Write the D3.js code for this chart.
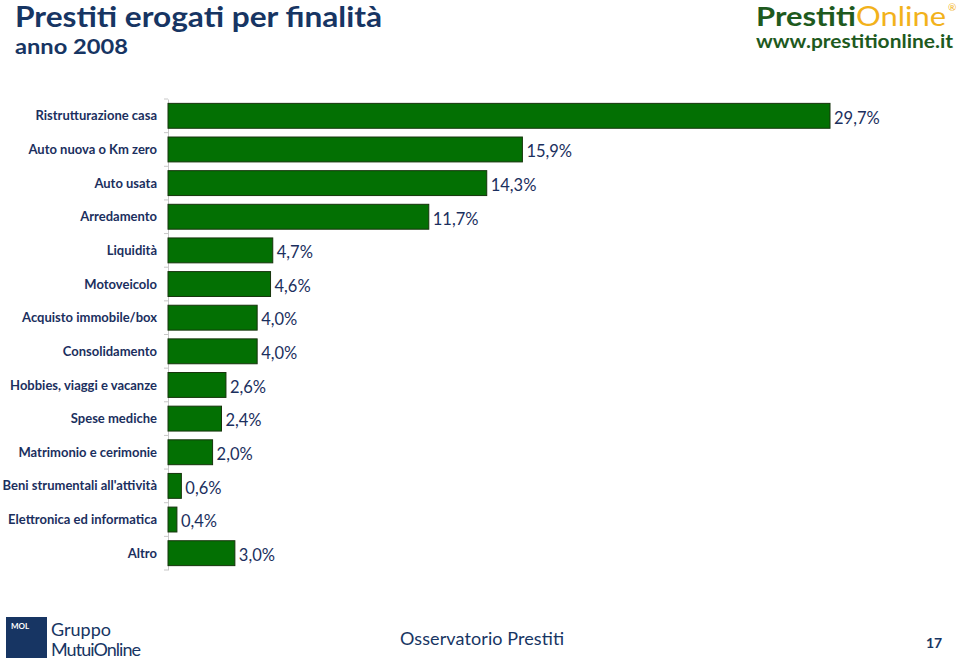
<!DOCTYPE html>
<html>
<head>
<meta charset="utf-8">
<script src="https://cdn.jsdelivr.net/npm/d3@7"></script>
<style>
  html, body { margin: 0; padding: 0; background: #fff; }
  svg { display: block; }
</style>
</head>
<body>
<script>
// categories and shares (%)
const categories = [
  "Ristrutturazione casa", "Auto nuova o Km zero", "Auto usata", "Arredamento",
  "Liquidità", "Motoveicolo", "Acquisto immobile/box", "Consolidamento",
  "Hobbies, viaggi e vacanze", "Spese mediche", "Matrimonio e cerimonie",
  "Beni strumentali all'attività", "Elettronica ed informatica", "Altro"
];
const values = [29.7, 15.9, 14.3, 11.7, 4.7, 4.6, 4.0, 4.0, 2.6, 2.4, 2.0, 0.6, 0.4, 3.0];

const width = 960, height = 660;
const navy = "#1b2f5e";
const font = "Lato, 'Open Sans', sans-serif";

const margin = {top: 99, left: 168};

const data = categories.map((c, i) => ({cat: c, val: values[i]}));

const x = d3.scaleLinear([0, 29.7], [margin.left, 830]);
const y = d3.scaleBand(categories, [margin.top, 570]).paddingInner(0.26).paddingOuter(0.13);

const svg = d3.select("body").append("svg")
    .attr("width", width)
    .attr("height", height)
    .attr("viewBox", [0, 0, width, height]);

// title
svg.append("text")
    .attr("x", 15).attr("y", 27)
    .attr("fill", "#173563")
    .attr("font-family", font).attr("font-weight", "bold").attr("font-size", 28)
    .attr("textLength", 367).attr("lengthAdjust", "spacingAndGlyphs")
    .text("Prestiti erogati per finalità");
svg.append("text")
    .attr("x", 15).attr("y", 54)
    .attr("fill", "#173563")
    .attr("font-family", font).attr("font-weight", "bold").attr("font-size", 21)
    .attr("textLength", 113).attr("lengthAdjust", "spacingAndGlyphs")
    .text("anno 2008");

// PrestitiOnline logo
const logo = svg.append("g").attr("font-family", font).attr("font-weight", "bold");
logo.append("text")
    .attr("x", 756).attr("y", 26)
    .attr("font-size", 27)
    .attr("textLength", 190).attr("lengthAdjust", "spacingAndGlyphs")
    .call(t => t.append("tspan").attr("fill", "#1e5a1e").text("Prestiti"))
    .call(t => t.append("tspan").attr("fill", "#f2b21b").attr("font-weight", "normal").text("Online"));
logo.append("text")
    .attr("x", 948).attr("y", 11)
    .attr("fill", "#f2b21b").attr("font-size", 10).attr("font-weight", "normal")
    .text("®");
logo.append("text")
    .attr("x", 756).attr("y", 48)
    .attr("fill", "#1e5a1e").attr("font-size", 18)
    .attr("textLength", 197).attr("lengthAdjust", "spacingAndGlyphs")
    .text("www.prestitionline.it");

// axis line
svg.append("g")
    .attr("transform", `translate(${margin.left},0)`)
    .call(d3.axisLeft(y).tickSize(0).tickFormat(""))
    .call(g => g.select(".domain").attr("stroke", "#c8c8c8"));

// tick marks between categories
const gap = y.step() - y.bandwidth();
const bounds = categories.map(c => y(c) - gap / 2).concat([y(categories[categories.length - 1]) + y.bandwidth() + gap / 2]);
svg.append("g")
    .selectAll("line")
    .data(bounds)
    .join("line")
      .attr("x1", margin.left - 4).attr("x2", margin.left)
      .attr("y1", d => d).attr("y2", d => d)
      .attr("stroke", "#c8c8c8");

// category labels
svg.append("g")
    .selectAll("text")
    .data(data)
    .join("text")
      .attr("x", margin.left - 11)
      .attr("y", d => y(d.cat) + y.bandwidth() / 2)
      .attr("dy", "0.35em")
      .attr("text-anchor", "end")
      .attr("fill", navy)
      .attr("font-family", font).attr("font-weight", "bold").attr("font-size", 13)
      .text(d => d.cat);

// bars
svg.append("g")
    .selectAll("rect")
    .data(data)
    .join("rect")
      .attr("x", x(0))
      .attr("y", d => y(d.cat))
      .attr("width", d => x(d.val) - x(0))
      .attr("height", y.bandwidth())
      .attr("fill", "#037003")
      .attr("stroke", "#16340c")
      .attr("stroke-width", 1);

// value labels
const fmt = d => d.toFixed(1).replace(".", ",") + "%";
svg.append("g")
    .selectAll("text")
    .data(data)
    .join("text")
      .attr("x", d => x(d.val) + 4)
      .attr("y", d => y(d.cat) + y.bandwidth() / 2 + 2)
      .attr("dy", "0.35em")
      .attr("fill", navy)
      .attr("font-family", font).attr("font-size", 16.5)
      .text(d => fmt(d.val));

// footer
const foot = svg.append("g").attr("font-family", font);
foot.append("rect")
    .attr("x", 6).attr("y", 617).attr("width", 41).attr("height", 41)
    .attr("fill", "#173563");
foot.append("text")
    .attr("x", 11).attr("y", 629)
    .attr("fill", "#fff").attr("font-size", 8).attr("font-weight", "bold")
    .text("MOL");
foot.append("text")
    .attr("x", 51).attr("y", 636)
    .attr("fill", "#173563").attr("font-size", 18)
    .attr("textLength", 60)
    .text("Gruppo");
foot.append("text")
    .attr("x", 51).attr("y", 656)
    .attr("fill", "#173563").attr("font-size", 18)
    .attr("textLength", 90)
    .text("MutuiOnline");
foot.append("text")
    .attr("x", 482).attr("y", 645)
    .attr("text-anchor", "middle")
    .attr("fill", "#173563").attr("font-size", 18)
    .attr("textLength", 164)
    .text("Osservatorio Prestiti");
foot.append("text")
    .attr("x", 934).attr("y", 648)
    .attr("text-anchor", "middle")
    .attr("fill", "#173563").attr("font-size", 14).attr("font-weight", "bold")
    .text("17");
</script>
</body>
</html>
